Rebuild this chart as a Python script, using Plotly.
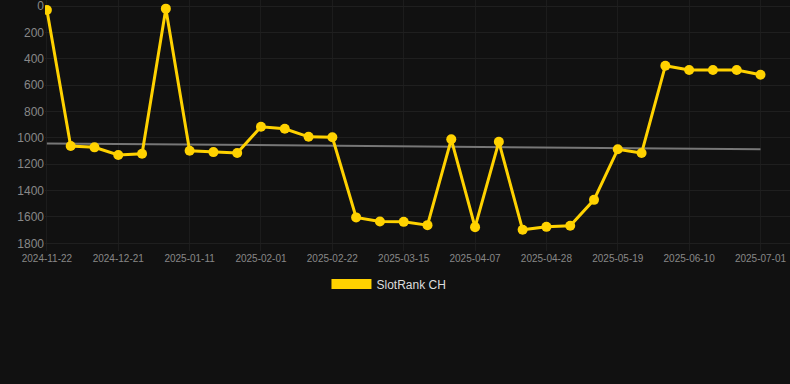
import numpy as np
import plotly.graph_objects as go

dates = ["2024-11-22", "2024-11-30", "2024-12-08", "2024-12-21", "2024-12-28",
         "2025-01-04", "2025-01-11", "2025-01-18", "2025-01-25", "2025-02-01",
         "2025-02-08", "2025-02-15", "2025-02-22", "2025-03-01", "2025-03-08",
         "2025-03-15", "2025-03-23", "2025-03-31", "2025-04-07", "2025-04-14",
         "2025-04-21", "2025-04-28", "2025-05-05", "2025-05-12", "2025-05-19",
         "2025-05-26", "2025-06-03", "2025-06-10", "2025-06-17", "2025-06-24",
         "2025-07-01"]
rank = [30, 1062, 1072, 1130, 1121, 20, 1098, 1108, 1115, 916,
        931, 992, 996, 1603, 1634, 1637, 1662, 1011, 1677, 1030,
        1697, 1675, 1667, 1470, 1087, 1115, 453, 486, 486, 486, 521]
tick_dates = dates[::3]
y_ticks = [0, 200, 400, 600, 800, 1000, 1200, 1400, 1600, 1800]
series_name = "SlotRank CH"

idx = np.arange(len(rank))
slope, intercept = np.polyfit(idx, rank, 1)
trend = list(slope * idx + intercept)

GOLD = "#FFD200"
fig = go.Figure()
fig.add_trace(go.Scatter(x=dates, y=trend, mode="lines",
                         line=dict(color="#777777", width=2),
                         showlegend=False, hoverinfo="skip"))
fig.add_trace(go.Scatter(x=dates, y=rank, mode="lines+markers",
                         line=dict(color=GOLD, width=3),
                         marker=dict(color=GOLD, size=10),
                         showlegend=False, name=series_name))
# legend entry
fig.add_trace(go.Scatter(x=[dates[0]], y=[None], mode="lines",
                         line=dict(color=GOLD, width=12),
                         name=series_name, showlegend=True))

fig.update_layout(
    width=790, height=384,
    paper_bgcolor="#111111", plot_bgcolor="#111111",
    margin=dict(l=45, r=0, t=0, b=133, autoexpand=False),
    font=dict(family="Liberation Sans, Arial, sans-serif", color="#888888"),
    showlegend=True,
    legend=dict(orientation="h", x=0.4617, xanchor="center",
                y=-0.131, yanchor="middle",
                font=dict(size=12, color="#dddddd"), itemwidth=40,
                bgcolor="rgba(0,0,0,0)"),
    xaxis=dict(type="category", range=[-0.08, 31.24],
               tickmode="array", tickvals=tick_dates, ticktext=tick_dates,
               tickfont=dict(size=10, color="#888888"), tickangle=0,
               showgrid=True, gridcolor="#1c1c1c", gridwidth=1,
               zeroline=False, showline=False, ticks="", ticklabeloverflow="allow"),
    yaxis=dict(range=[1858, -45.5], tickvals=y_ticks,
               tickfont=dict(size=12, color="#888888"),
               showgrid=True, gridcolor="#1f1f1f", gridwidth=1,
               zeroline=False, showline=False, ticks="", ticklabelstandoff=0,
               ticklabeloverflow="allow"),
)
fig.write_html("out.html", config={"displayModeBar": False})

with open("out.html", "r", encoding="utf-8") as f:
    html = f.read()
html = html.replace("<head>", "<head><style>html,body{margin:0;padding:0;background:#111111;overflow:hidden;}</style>", 1)
with open("out.html", "w", encoding="utf-8") as f:
    f.write(html)
